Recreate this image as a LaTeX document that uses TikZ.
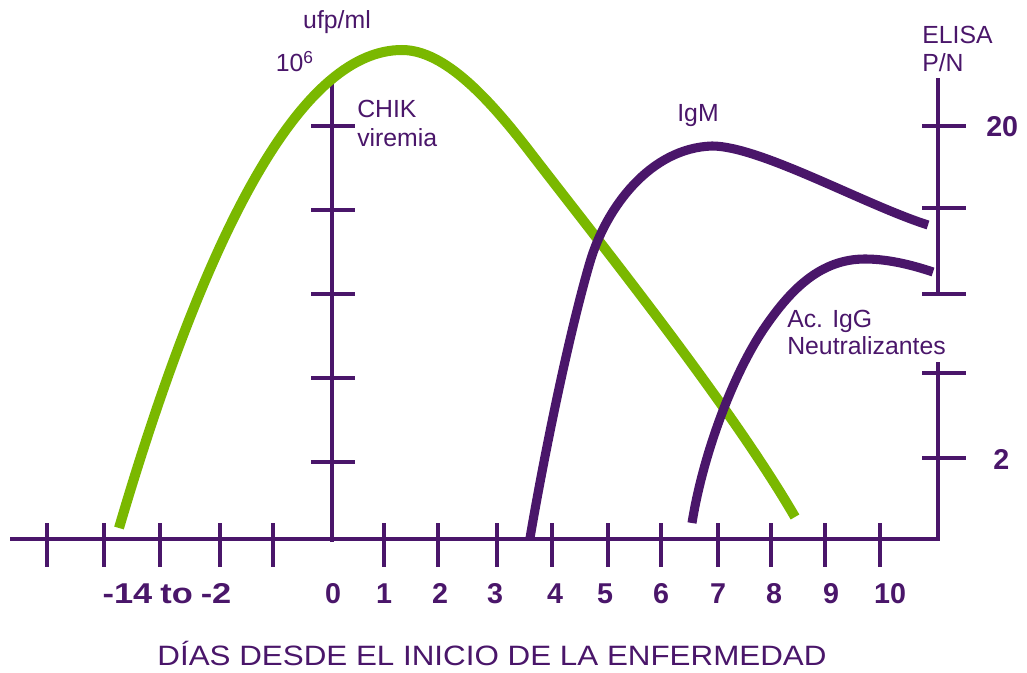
\documentclass[tikz,border=0pt]{standalone}
\usepackage{fontspec}
\setmainfont{Liberation Sans}
\definecolor{axpurple}{RGB}{74,22,106}
\definecolor{virgreen}{RGB}{122,184,0}
\begin{document}
\begin{tikzpicture}[x=0.75pt,y=-0.75pt,
  axisline/.style={draw=axpurple, line width=2.3pt},
  tickmark/.style={draw=axpurple, line width=2.3pt},
  purplecurve/.style={draw=axpurple, line width=6.8pt},
  greencurve/.style={draw=virgreen, line width=7.5pt},
  lbl/.style={text=axpurple, inner sep=0pt, font=\fontsize{18.6}{21}\selectfont},
  numlbl/.style={text=axpurple, inner sep=0pt, font=\fontsize{21.5}{24}\selectfont\bfseries, anchor=base}]
\useasboundingbox (0,0) rectangle (1027,673);
% axes
\coordinate (xl) at (10,539);
\coordinate (corner) at (938,539);
\coordinate (rtop) at (938,78);
\coordinate (rgapTop) at (938,296);
\coordinate (rgapBot) at (938,362);
\coordinate (vtop) at (332,75);
\coordinate (vbot) at (332,542);
\draw[axisline] (xl) -- (corner) -- (rgapBot);
\draw[axisline] (rgapTop) -- (rtop);
\draw[axisline] (vtop) -- (vbot);
% x ticks
\foreach \x in {47,104,160,220,273,384,438,497,552,608,661,718,771,825,880}
  \draw[tickmark] (\x,523) -- (\x,567);
% left axis ticks
\foreach \y in {126,210,294,378,462}
  \draw[tickmark] (311,\y) -- (355,\y);
% right axis ticks
\foreach \y in {126,208,294,373,458}
  \draw[tickmark] (922,\y) -- (966,\y);
% curves
\draw[greencurve] (119,528) .. controls (213,209) and (307,50) .. (402,50)
  .. controls (445,50) and (490,100) .. (530,152)
  .. controls (600,243) and (730,405) .. (795,517);
\draw[purplecurve] (530,538) .. controls (545,450) and (570,330) .. (590,262)
  .. controls (606,208) and (650,148) .. (712,146)
  .. controls (760,146) and (865,205) .. (928,225);
\draw[purplecurve] (692,523) .. controls (702,460) and (730,380) .. (763,330)
  .. controls (790,290) and (820,259) .. (865,259)
  .. controls (890,259) and (915,266) .. (933,272);
% labels
\node[lbl, anchor=base] (ufp) at (337,29) {ufp/ml};
\node[lbl, anchor=base east] (ten) at (314,72) {10\textsuperscript{6}};
\node[lbl, anchor=base west] (chik) at (357,118) {CHIK};
\node[lbl, anchor=base west] (vir) at (357,147) {viremia};
\node[lbl, anchor=base] (igm) at (698,122) {IgM};
\node[lbl, anchor=base west] (acigg) at (787,327) {Ac. IgG};
\node[lbl, anchor=base west] (neut) at (787,354) {Neutralizantes};
\node[lbl, anchor=base west] (elisa) at (922,44) {ELISA};
\node[lbl, anchor=base west] (pn) at (922,72) {P/N};
\node[numlbl, anchor=base west] (twenty) at (986,137) {20};
\node[numlbl, anchor=base west] (two) at (993,469) {2};
% x labels
\node[numlbl] (xm) at (167,603) {\scalebox{1.2}[1]{-14\hspace{5pt}to\hspace{5pt}-2}};
\foreach \x/\t in {333/0,384/1,440/2,495/3,555/4,605/5,661/6,718/7,774/8,831/9,890/10}
  \node[numlbl] (x\t) at (\x,603) {\t};
\node[text=axpurple, inner sep=0pt, anchor=base, font=\fontsize{21}{24}\selectfont] (title) at (492,665) {\scalebox{1.12}[1]{DÍAS DESDE EL INICIO DE LA ENFERMEDAD}};
\end{tikzpicture}
\end{document}
